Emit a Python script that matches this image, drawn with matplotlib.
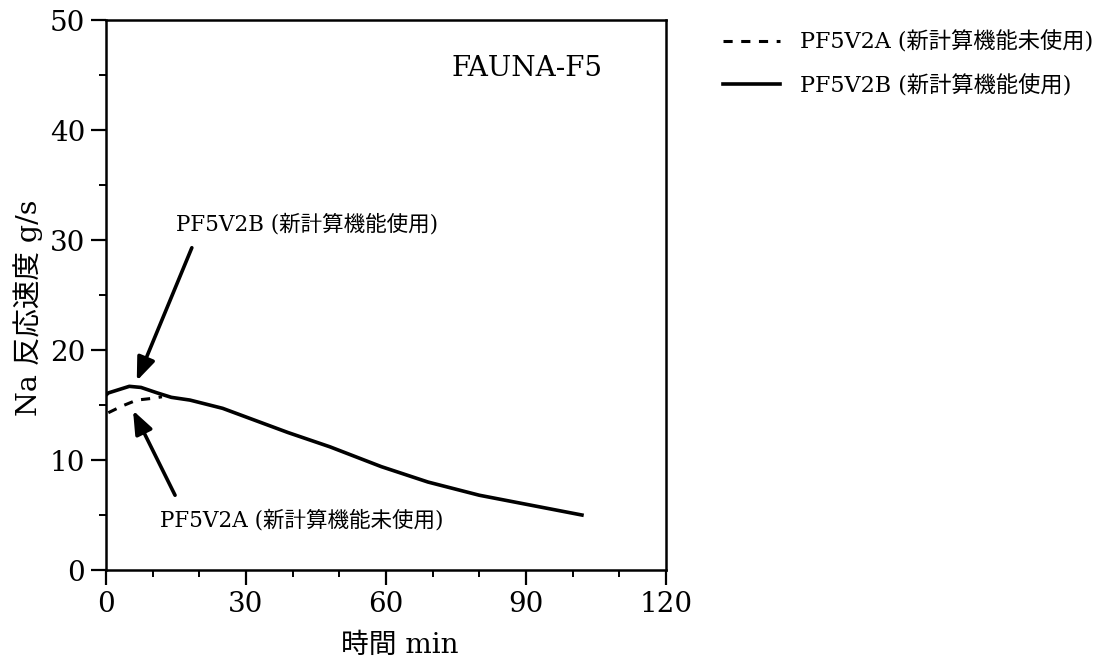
import matplotlib
matplotlib.use("Agg")
import matplotlib.pyplot as plt
from matplotlib.ticker import MultipleLocator

plt.rcParams['font.family'] = ['DejaVu Serif', 'Noto Sans CJK JP']

# Data
time_b = [0, 0.5, 2, 5, 7.5, 11, 14, 18, 25, 32, 39, 48, 59, 69, 80, 91, 102]
rate_b = [15.9, 16.1, 16.3, 16.7, 16.6, 16.1, 15.7, 15.45, 14.7, 13.6, 12.5, 11.2, 9.4, 8.0, 6.8, 5.9, 5.0]
time_a = [0.5, 3.4, 6.6, 9.8, 12.0]
rate_a = [14.3, 14.9, 15.45, 15.6, 15.75]

label_a = 'PF5V2A (新計算機能未使用)'
label_b = 'PF5V2B (新計算機能使用)'
title_text = 'FAUNA-F5'
xlabel = '時間 min'
ylabel = 'Na 反応速度 g/s'
xticks = [0, 30, 60, 90, 120]
yticks = [0, 10, 20, 30, 40, 50]

fig = plt.figure(figsize=(11.04, 6.66), dpi=100)
ax = fig.add_axes([0.0960, 0.1441, 0.5072, 0.8258])

la, = ax.plot(time_a, rate_a, color='black', lw=2.2, linestyle=(0, (3, 2.8)), label=label_a)
lb, = ax.plot(time_b, rate_b, color='black', lw=2.6, label=label_b)

ax.set_xlim(0, 120)
ax.set_ylim(0, 50)
ax.set_xticks(xticks)
ax.set_yticks(yticks)
ax.xaxis.set_minor_locator(MultipleLocator(10))
ax.yaxis.set_minor_locator(MultipleLocator(5))
ax.tick_params(which='major', direction='out', length=11, width=1.6, labelsize=20, pad=4)
ax.tick_params(which='minor', direction='out', length=5, width=1.4)
for s in ax.spines.values():
    s.set_linewidth(1.8)

ax.set_xlabel(xlabel, fontsize=20)
ax.xaxis.set_label_coords(0.525, -0.112)
ax.set_ylabel(ylabel, fontsize=20.5)
ax.yaxis.set_label_coords(-0.1125, 0.476)

ax.text(74.1, 45.6, title_text, fontsize=20, ha='left', va='center')

ax.text(15.1, 31.4, label_b, fontsize=15.5, ha='left', va='center')
ax.text(11.6, 4.5, label_a, fontsize=15.5, ha='left', va='center')

arrow_kw = dict(arrowstyle='-|>,head_length=1.4,head_width=0.55', color='black', lw=2.6, shrinkA=0, shrinkB=0)
ax.annotate('', xy=(6.6, 17.2), xytext=(18.4, 29.3), arrowprops=arrow_kw)
ax.annotate('', xy=(5.8, 14.5), xytext=(14.8, 6.8), arrowprops=arrow_kw)

leg = ax.legend(handles=[la, lb], loc='upper left', bbox_to_anchor=(1.066, 1.016),
                frameon=False, fontsize=16, handlelength=2.56, handletextpad=0.9,
                labelspacing=0.95)

fig.savefig('out.png', dpi=100)
